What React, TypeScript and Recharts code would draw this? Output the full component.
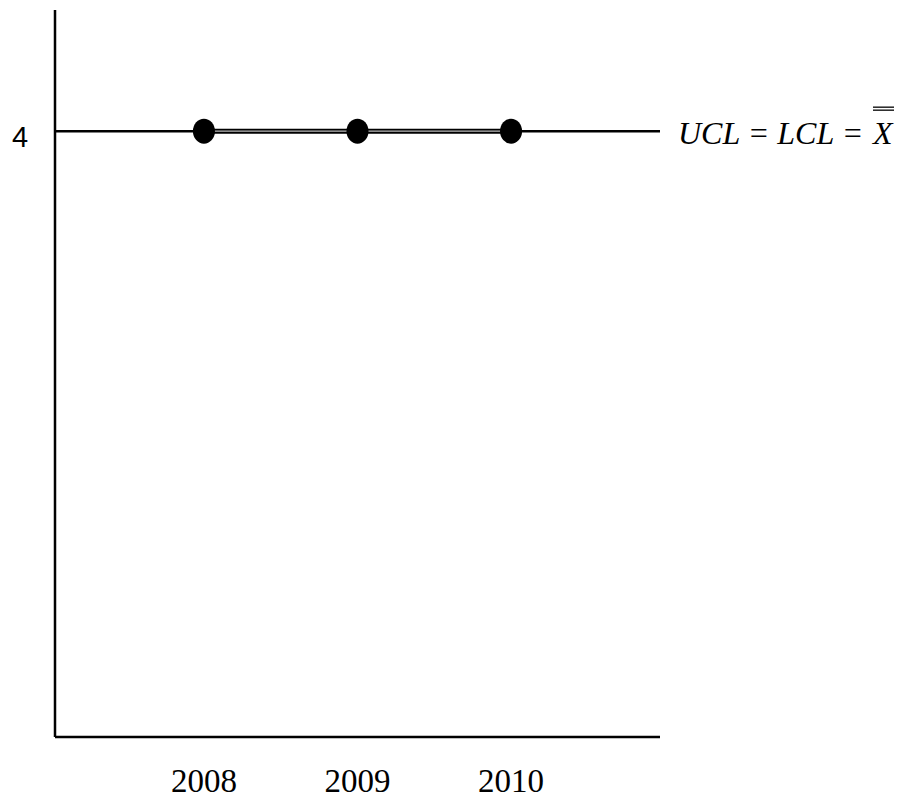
import React from "react";
import { LineChart, Line, XAxis, YAxis, ReferenceLine } from "recharts";

const years = [2008, 2009, 2010];
const values = [4, 4, 4];
const yTicks = [4];
const controlLimit = 4;
const limitLabel = "UCL = LCL = ";

const data = years.map((y, i) => ({ year: y, value: values[i] }));

const XTick = (props: any) => {
  const { x, y, payload } = props;
  return (
    <text x={x} y={y + 55} textAnchor="middle" fontFamily="'Liberation Serif', 'Times New Roman', serif" fontSize={33} fill="#000">
      {payload.value}
    </text>
  );
};

const YTick = (props: any) => {
  const { x, y, payload } = props;
  return (
    <text x={x - 35} y={y + 16} textAnchor="middle" fontFamily="'Liberation Sans', Arial, sans-serif" fontSize={29} fill="#000">
      {payload.value}
    </text>
  );
};

const LimitLabel = (props: any) => {
  const vb = props.viewBox || {};
  const x0 = vb.x + vb.width + 18;
  const yb = vb.y + 13;
  const xX = x0 + 195;
  return (
    <g>
      <text x={x0} y={yb} fontFamily="'Liberation Serif', 'Times New Roman', serif" fontStyle="italic" fontSize={32} fill="#000">
        {limitLabel}
      </text>
      <text x={xX} y={yb} fontFamily="'Liberation Serif', 'Times New Roman', serif" fontStyle="italic" fontSize={32} fill="#000">
        X
      </text>
      <line x1={xX} x2={xX + 21} y1={yb - 37} y2={yb - 37} stroke="#000" strokeWidth={1.3} />
      <line x1={xX} x2={xX + 21} y1={yb - 34} y2={yb - 34} stroke="#000" strokeWidth={1.3} />
    </g>
  );
};

const Dot = (props: any) => {
  const { cx, cy } = props;
  if (cx == null || cy == null) return null;
  return <ellipse cx={cx} cy={cy} rx={11} ry={12.5} fill="#000" />;
};

export default function App() {
  return (
    <div style={{ position: "absolute", left: 0, top: 0, width: 906, height: 804, background: "#fff" }}>
      <LineChart
        width={906}
        height={804}
        data={data}
        margin={{ top: 10, right: 246, bottom: 0, left: 0 }}
      >
        <XAxis
          dataKey="year"
          type="number"
          domain={[2007.03, 2010.97]}
          ticks={years}
          height={67}
          tickLine={false}
          tickSize={0}
          tickMargin={0}
          axisLine={{ stroke: "#000", strokeWidth: 2.5 }}
          tick={<XTick />}
          allowDataOverflow
        />
        <YAxis
          type="number"
          domain={[0, 4.8]}
          ticks={yTicks}
          width={55}
          tickLine={false}
          tickSize={0}
          tickMargin={0}
          axisLine={{ stroke: "#000", strokeWidth: 2.5 }}
          tick={<YTick />}
          allowDataOverflow
        />
        <ReferenceLine y={controlLimit} stroke="#000" strokeWidth={2.5} label={<LimitLabel />} ifOverflow="visible" />
        <Line
          type="linear"
          dataKey="value"
          stroke="#000"
          strokeWidth={5}
          dot={false}
          activeDot={false}
          isAnimationActive={false}
        />
        <Line
          type="linear"
          dataKey="value"
          stroke="#bbb"
          strokeWidth={1.2}
          dot={<Dot />}
          activeDot={false}
          isAnimationActive={false}
        />
      </LineChart>
    </div>
  );
}
